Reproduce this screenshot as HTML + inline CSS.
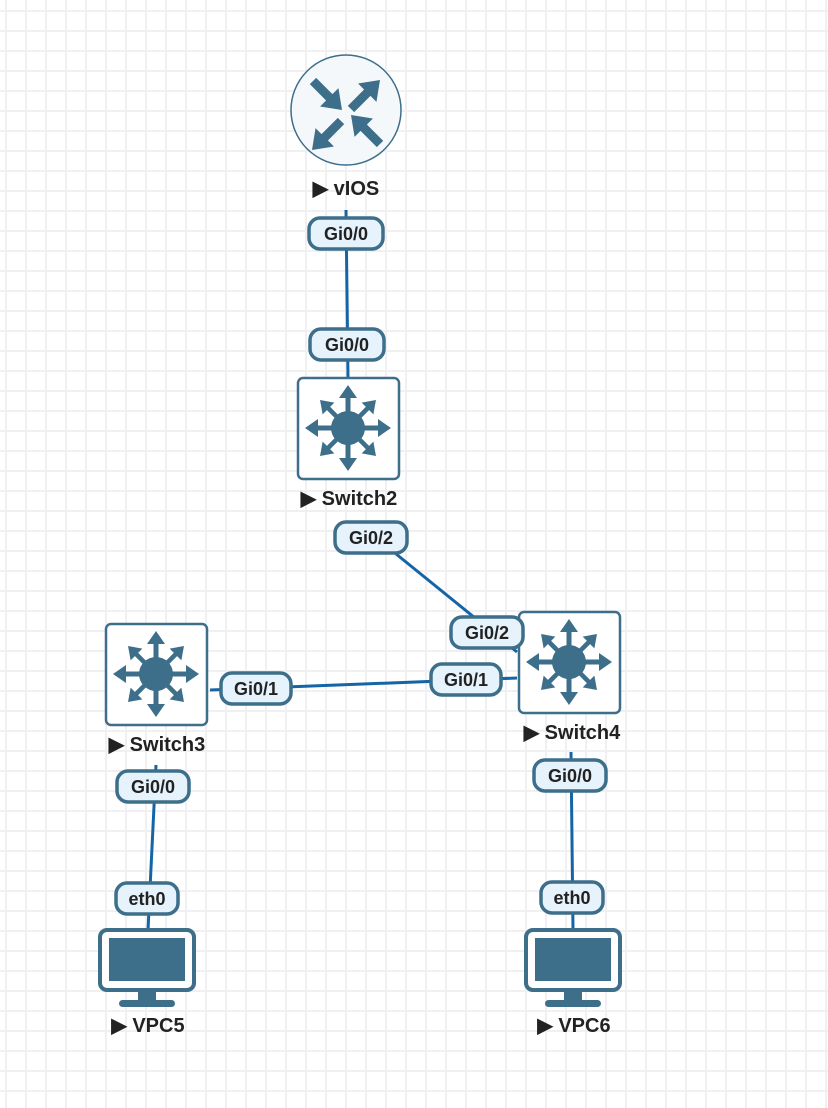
<!DOCTYPE html>
<html><head><meta charset="utf-8"><style>
html,body{margin:0;padding:0;background:#fff;}
svg{display:block;}
text{font-family:"Liberation Sans",sans-serif;}
</style></head><body>
<svg width="828" height="1108" viewBox="0 0 828 1108" xmlns="http://www.w3.org/2000/svg">
<defs>
<pattern id="g" x="5" y="10" width="20" height="20" patternUnits="userSpaceOnUse">
<rect x="0" y="0" width="2" height="20" fill="#f0f0f3"/><rect x="0" y="0" width="20" height="2" fill="#f0f0f3"/>
</pattern>
<g id="arr"><line x1="0" y1="0" x2="0" y2="-32" stroke="#3d6e8a" stroke-width="5"/><polygon points="-9,-30 9,-30 0,-43" fill="#3d6e8a"/></g>
<g id="ra"><rect x="0" y="-4.5" width="26" height="9" fill="#3d6e8a"/><polygon points="23,-13 41,0 23,13" fill="#3d6e8a"/></g>
<g id="sw">
<rect x="-50" y="-50" width="101" height="101" rx="5" fill="#fff" stroke="#3d6e8a" stroke-width="2.5"/>
<use href="#arr"/><use href="#arr" transform="rotate(90)"/><use href="#arr" transform="rotate(180)"/><use href="#arr" transform="rotate(270)"/>
<use href="#arr" transform="rotate(45) scale(0.92)"/><use href="#arr" transform="rotate(135) scale(0.92)"/><use href="#arr" transform="rotate(225) scale(0.92)"/><use href="#arr" transform="rotate(315) scale(0.92)"/>
<circle r="17" fill="#3d6e8a"/>
</g>
<g id="pc">
<rect x="-47" y="0" width="94" height="60" rx="7" fill="#fff" stroke="#3d6e8a" stroke-width="4"/>
<rect x="-38" y="8" width="76" height="43" fill="#3d6e8a"/>
<rect x="-9" y="60" width="18" height="12" fill="#3d6e8a"/>
<rect x="-28" y="70" width="56" height="7" rx="3.5" fill="#3d6e8a"/>
</g>
</defs>
<rect width="828" height="1108" fill="url(#g)"/>
<g stroke="#1565a6" stroke-width="3">
<line x1="346" y1="210" x2="348" y2="378"/>
<line x1="385" y1="545" x2="517" y2="652"/>
<line x1="210" y1="690" x2="517" y2="678"/>
<line x1="156" y1="765" x2="148" y2="930"/>
<line x1="571" y1="752" x2="573" y2="930"/>
</g>
<circle cx="346" cy="110" r="55" fill="#f5f8fa" stroke="#3d6e8a" stroke-width="1.5"/>
<use href="#ra" transform="translate(313,81) rotate(45)"/>
<use href="#ra" transform="translate(351,109) rotate(-45)"/>
<use href="#ra" transform="translate(341,121) rotate(135)"/>
<use href="#ra" transform="translate(380,144) rotate(225)"/>
<use href="#sw" x="348" y="428"/>
<use href="#sw" x="156" y="674"/>
<use href="#sw" x="569" y="662"/>
<use href="#pc" x="147" y="930"/>
<use href="#pc" x="573" y="930"/>
<g font-size="20" font-weight="bold" fill="#222" text-anchor="middle">
<text x="346" y="195">▶ vIOS</text>
<text x="349" y="505">▶ Switch2</text>
<text x="157" y="751">▶ Switch3</text>
<text x="572" y="739">▶ Switch4</text>
<text x="148" y="1032">▶ VPC5</text>
<text x="574" y="1032">▶ VPC6</text>
</g>
<g font-size="18" font-weight="bold" fill="#222" text-anchor="middle">
<g><rect x="309" y="218" width="74" height="31" rx="11" fill="#e6f2fc" stroke="#3d6e8a" stroke-width="3.5"/><text x="346" y="240">Gi0/0</text></g>
<g><rect x="310" y="329" width="74" height="31" rx="11" fill="#e6f2fc" stroke="#3d6e8a" stroke-width="3.5"/><text x="347" y="351">Gi0/0</text></g>
<g><rect x="335" y="522" width="72" height="31" rx="11" fill="#e6f2fc" stroke="#3d6e8a" stroke-width="3.5"/><text x="371" y="544">Gi0/2</text></g>
<g><rect x="451" y="617" width="72" height="31" rx="11" fill="#e6f2fc" stroke="#3d6e8a" stroke-width="3.5"/><text x="487" y="639">Gi0/2</text></g>
<g><rect x="431" y="664" width="70" height="31" rx="11" fill="#e6f2fc" stroke="#3d6e8a" stroke-width="3.5"/><text x="466" y="686">Gi0/1</text></g>
<g><rect x="221" y="673" width="70" height="31" rx="11" fill="#e6f2fc" stroke="#3d6e8a" stroke-width="3.5"/><text x="256" y="695">Gi0/1</text></g>
<g><rect x="117" y="771" width="72" height="31" rx="11" fill="#e6f2fc" stroke="#3d6e8a" stroke-width="3.5"/><text x="153" y="793">Gi0/0</text></g>
<g><rect x="116" y="883" width="62" height="31" rx="11" fill="#e6f2fc" stroke="#3d6e8a" stroke-width="3.5"/><text x="147" y="905">eth0</text></g>
<g><rect x="534" y="760" width="72" height="31" rx="11" fill="#e6f2fc" stroke="#3d6e8a" stroke-width="3.5"/><text x="570" y="782">Gi0/0</text></g>
<g><rect x="541" y="882" width="62" height="31" rx="11" fill="#e6f2fc" stroke="#3d6e8a" stroke-width="3.5"/><text x="572" y="904">eth0</text></g>
</g>
</svg>
</body></html>
